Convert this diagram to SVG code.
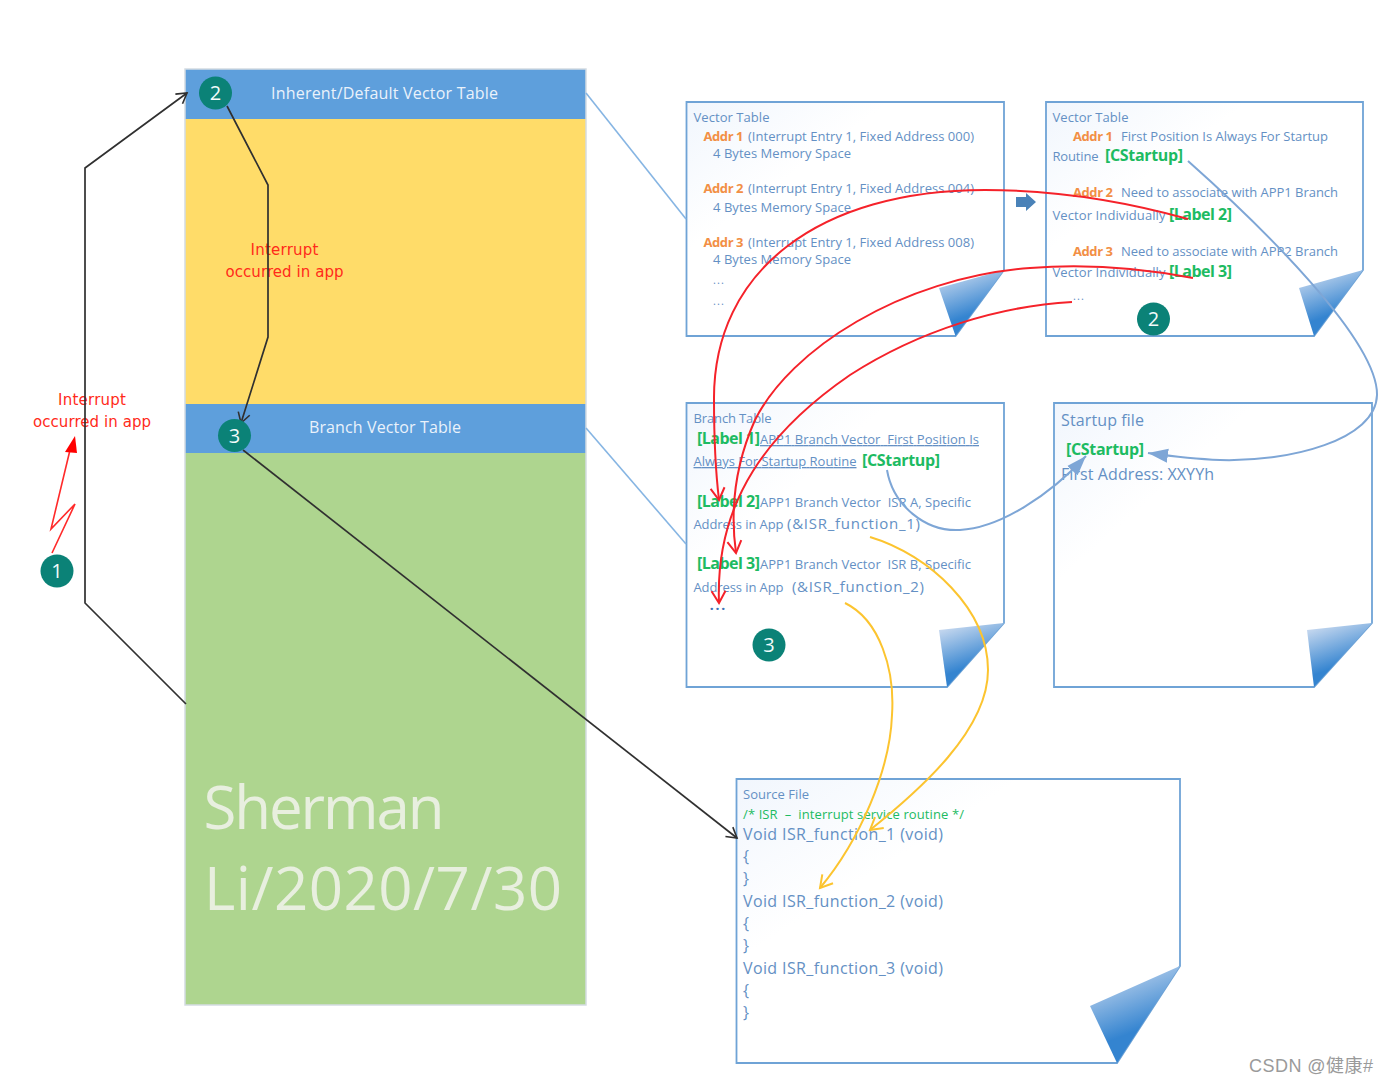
<svg xmlns="http://www.w3.org/2000/svg" width="1388" height="1084" viewBox="0 0 1388 1084">
<style>
text{font-family:"Open Sans","Noto Sans",sans-serif}
.page{fill:url(#pg);stroke:#6fa3d6;stroke-width:1.8}
.fold{fill:url(#fd)}
.t{font-size:13px;fill:#6490c4}
.b{font-size:16px;fill:#6490c4}
.o{font-size:13px;font-weight:700;fill:#f28f45}
.g{font-size:16px;font-weight:700;fill:#1dbb62}
.u{text-decoration:underline}
.h{font-size:16px;fill:#eaf2fb}
.r{font-family:"DejaVu Sans",sans-serif;font-size:15px;fill:#ff2a1a;text-anchor:middle}
.c{fill:#0b8277}
.n{font-size:20px;fill:#f2fbfa;text-anchor:middle}
.k{fill:none;stroke:#303030;stroke-width:1.7}
.red{fill:none;stroke:#f5222a;stroke-width:2}
.bl{fill:none;stroke:#7ea6d6;stroke-width:2}
.ye{fill:none;stroke:#fcc42f;stroke-width:2}
.ln{fill:none;stroke:#86b5e3;stroke-width:1.6}
</style>
<defs>
<linearGradient id="pg" x1="0" y1="0" x2="1" y2="1"><stop offset="0" stop-color="#f1f6fd"/><stop offset=".32" stop-color="#fff"/></linearGradient>
<linearGradient id="fd" x1="0.3" y1="0" x2="0.6" y2="0.85"><stop offset="0" stop-color="#c6d8ef"/><stop offset=".78" stop-color="#3484d0"/></linearGradient>
<marker id="ak" markerUnits="userSpaceOnUse" markerWidth="16" markerHeight="16" refX="12" refY="7" orient="auto"><path d="M2,1 L12,7 L2,13" fill="none" stroke="#303030" stroke-width="1.6"/></marker>
<marker id="ar" markerUnits="userSpaceOnUse" markerWidth="20" markerHeight="20" refX="15" refY="9" orient="auto"><path d="M3,2 L15,9 L3,16" fill="none" stroke="#f5222a" stroke-width="2"/></marker>
<marker id="ay" markerUnits="userSpaceOnUse" markerWidth="20" markerHeight="20" refX="15" refY="9" orient="auto"><path d="M3,2 L15,9 L3,16" fill="none" stroke="#fcc42f" stroke-width="2"/></marker>
<marker id="ab" markerUnits="userSpaceOnUse" markerWidth="22" markerHeight="20" refX="20" refY="8" orient="auto"><path d="M0,1 L20,8 L0,15 Z" fill="#7ea6d6"/></marker>
</defs>
<rect width="1388" height="1084" fill="#fff"/>

<g id="column">
<rect x="185" y="119" width="401" height="285" fill="#ffdc69"/>
<rect x="185" y="453" width="401" height="552" fill="#aed58f"/>
<rect x="185" y="69" width="401" height="50" fill="#5e9fdc"/>
<rect x="185" y="404" width="401" height="49" fill="#5e9fdc"/>
<rect x="185" y="69" width="401" height="936" fill="none" stroke="#d4dbe2" stroke-width="1.5"/>
<text class="h" x="271" y="99" textLength="227">Inherent/Default Vector Table</text>
<text class="h" x="309" y="433" textLength="152">Branch Vector Table</text>
<text x="203.5" y="829" font-size="60" fill="#e8efdf" textLength="241">Sherman</text>
<text x="204" y="910" font-size="60" fill="#e8efdf" textLength="358">Li/2020/7/30</text>
<text class="r" x="284.5" y="255" textLength="68">Interrupt</text>
<text class="r" x="284.5" y="277" textLength="118">occurred in app</text>
</g>

<g id="label-interrupt">
<text class="r" x="92" y="405" textLength="68">Interrupt</text>
<text class="r" x="92" y="427" textLength="118">occurred in app</text>
</g>

<g id="vector-table-1">
<path class="page" d="M686.5,102 H1004 V270 L955.5,336 H686.5 Z"/>
<path class="fold" d="M1004,270 L939,288 L955.5,336 Z"/>
<text class="t" x="693.5" y="122" textLength="76">Vector Table</text>
<text class="o" x="703.5" y="141" textLength="40">Addr 1</text>
<text class="t" x="748" y="141" textLength="226">(Interrupt Entry 1, Fixed Address 000)</text>
<text class="t" x="713" y="158" textLength="138">4 Bytes Memory Space</text>
<text class="o" x="703.5" y="193" textLength="40">Addr 2</text>
<text class="t" x="748" y="193" textLength="226">(Interrupt Entry 1, Fixed Address 004)</text>
<text class="t" x="713" y="212" textLength="138">4 Bytes Memory Space</text>
<text class="o" x="703.5" y="247" textLength="40">Addr 3</text>
<text class="t" x="748" y="247" textLength="226">(Interrupt Entry 1, Fixed Address 008)</text>
<text class="t" x="713" y="264" textLength="138">4 Bytes Memory Space</text>
<text class="t" x="713" y="284" style="font-size:11px" textLength="11">...</text>
<text class="t" x="713" y="305" style="font-size:11px" textLength="11">...</text>
</g>

<g id="vector-table-2">
<path class="page" d="M1046,102 H1363 V270 L1314,336 H1046 Z"/>
<path class="fold" d="M1363,270 L1299,288 L1314,336 Z"/>
<text class="t" x="1052.5" y="122" textLength="76">Vector Table</text>
<text class="o" x="1073" y="141" textLength="40">Addr 1</text>
<text class="t" x="1121" y="141" textLength="207">First Position Is Always For Startup</text>
<text class="t" x="1052.5" y="161" textLength="46">Routine</text>
<text class="g" x="1105" y="161" textLength="78">[CStartup]</text>
<text class="o" x="1073" y="197" textLength="40">Addr 2</text>
<text class="t" x="1121" y="197" textLength="217">Need to associate with APP1 Branch</text>
<text class="t" x="1052.5" y="220" textLength="113">Vector Individually</text>
<text class="g" x="1169" y="220" textLength="63">[Label 2]</text>
<text class="o" x="1073" y="256" textLength="40">Addr 3</text>
<text class="t" x="1121" y="256" textLength="217">Need to associate with APP2 Branch</text>
<text class="t" x="1052.5" y="277" textLength="113">Vector Individually</text>
<text class="g" x="1169" y="277" textLength="63">[Label 3]</text>
<text class="t" x="1073" y="300" style="font-size:11px" textLength="11">...</text>
</g>

<g id="branch-table">
<path class="page" d="M686.5,403 H1004 V623 L947,687 H686.5 Z"/>
<path class="fold" d="M1004,623 L939,630 L947,687 Z"/>
<text class="t" x="693.5" y="423" textLength="78">Branch Table</text>
<text class="g" x="697" y="444" textLength="63">[Label 1]</text>
<text class="t u" x="760" y="444" textLength="219">APP1 Branch Vector&#160; First Position Is</text>
<text class="t u" x="693.5" y="466" textLength="163">Always For Startup Routine</text>
<text class="g" x="862" y="466" textLength="78">[CStartup]</text>
<text class="g" x="697" y="507" textLength="63">[Label 2]</text>
<text class="t" x="760" y="507" textLength="211">APP1 Branch Vector&#160; ISR A, Specific</text>
<text class="t" x="693.5" y="529" textLength="90">Address in App</text>
<text class="t" x="787" y="529" style="font-size:15px" textLength="133">(&amp;ISR_function_1)</text>
<text class="g" x="697" y="569" textLength="63">[Label 3]</text>
<text class="t" x="760" y="569" textLength="211">APP1 Branch Vector&#160; ISR B, Specific</text>
<text class="t" x="693.5" y="592" textLength="90">Address in App</text>
<text class="t" x="792" y="592" style="font-size:15px" textLength="132">(&amp;ISR_function_2)</text>
<text x="710" y="610" font-size="12" font-weight="800" fill="#3f74b8" textLength="15">...</text>
</g>

<g id="startup-file">
<path class="page" d="M1054,403 H1372 V623 L1314,687 H1054 Z"/>
<path class="fold" d="M1372,623 L1307,630 L1314,687 Z"/>
<text class="b" x="1061" y="426" textLength="83">Startup file</text>
<text class="g" x="1066" y="455" textLength="78">[CStartup]</text>
<text class="b" x="1061" y="480" textLength="153">First Address: XXYYh</text>
</g>

<g id="source-file">
<path class="page" d="M736.5,779 H1180 V966 L1117,1063 H736.5 Z"/>
<path class="fold" d="M1180,966 L1090,1006 L1117,1063 Z"/>
<text class="t" x="743" y="799" textLength="66">Source File</text>
<text x="743" y="819" font-size="13" fill="#1dbb62" textLength="221">/* ISR&#160; –&#160; interrupt service routine */</text>
<text class="b" x="743" y="840" textLength="200">Void ISR_function_1 (void)</text>
<text class="b" x="743" y="862">{</text>
<text class="b" x="743" y="884">}</text>
<text class="b" x="743" y="907" textLength="200">Void ISR_function_2 (void)</text>
<text class="b" x="743" y="929">{</text>
<text class="b" x="743" y="951">}</text>
<text class="b" x="743" y="974" textLength="200">Void ISR_function_3 (void)</text>
<text class="b" x="743" y="996">{</text>
<text class="b" x="743" y="1018">}</text>
</g>

<g id="arrow-block"><path d="M1016,197 H1026 V193 L1036,202 L1026,211 V207 H1016 Z" fill="#4a82b8"/></g>

<g id="connectors">
<path class="ln" d="M586,93 L686,219"/>
<path class="ln" d="M586,428 L686,544"/>
<path class="k" d="M186,704 L85,603 V168 L187,93" marker-end="url(#ak)"/>
<path class="k" d="M227,106 L268,185 V337 L241,423" marker-end="url(#ak)"/>
<path class="k" d="M243,450 L737,838" marker-end="url(#ak)"/>
<path d="M52,553 L75,504 L51,529 L70,450" fill="none" stroke="#ff2a2a" stroke-width="1.6"/>
<path d="M75,436 L65,452 L77,453 Z" fill="#f00"/>
<path class="red" d="M1188,219 C1120,200 1050,190 985,190 C820,190 713,270 714,400 C714,440 716,475 719,500" marker-end="url(#ar)"/>
<path class="red" d="M1193,278 C1130,266 1080,264 1030,268 C900,278 790,350 755,420 C735,465 730,510 736,553" marker-end="url(#ar)"/>
<path class="red" d="M1072,302 C1000,306 920,330 850,375 C770,430 715,500 719,603" marker-end="url(#ar)"/>
<path class="bl" d="M1188,161 C1260,225 1378,340 1377,395 C1376,440 1290,462 1220,460 C1195,459 1170,456 1148,453" marker-end="url(#ab)"/>
<path class="bl" d="M887,470 C893,505 925,532 960,530 C1000,528 1050,495 1086,456" marker-end="url(#ab)"/>
<path class="ye" d="M870,537 C930,555 988,610 988,670 C988,730 920,790 870,830" marker-end="url(#ay)"/>
<path class="ye" d="M845,603 C880,620 895,670 892,715 C890,770 860,840 820,888" marker-end="url(#ay)"/>
</g>

<g id="badge-1"><circle class="c" cx="57" cy="571" r="16.5"/><text class="n" x="57" y="578">1</text></g>
<g id="badge-2a"><circle class="c" cx="215.5" cy="93" r="16.5"/><text class="n" x="215.5" y="100">2</text></g>
<g id="badge-3a"><circle class="c" cx="234.5" cy="435.5" r="16.5"/><text class="n" x="234.5" y="442.5">3</text></g>
<g id="badge-2b"><circle class="c" cx="1153.5" cy="319" r="16.5"/><text class="n" x="1153.5" y="326">2</text></g>
<g id="badge-3b"><circle class="c" cx="769" cy="645" r="16.5"/><text class="n" x="769" y="652">3</text></g>

<g id="watermark"><text x="1249" y="1072" font-size="18" fill="#9a9a9a" textLength="124" style="font-family:'Liberation Sans','Noto Sans CJK SC',sans-serif">CSDN @健康#</text></g>
</svg>
